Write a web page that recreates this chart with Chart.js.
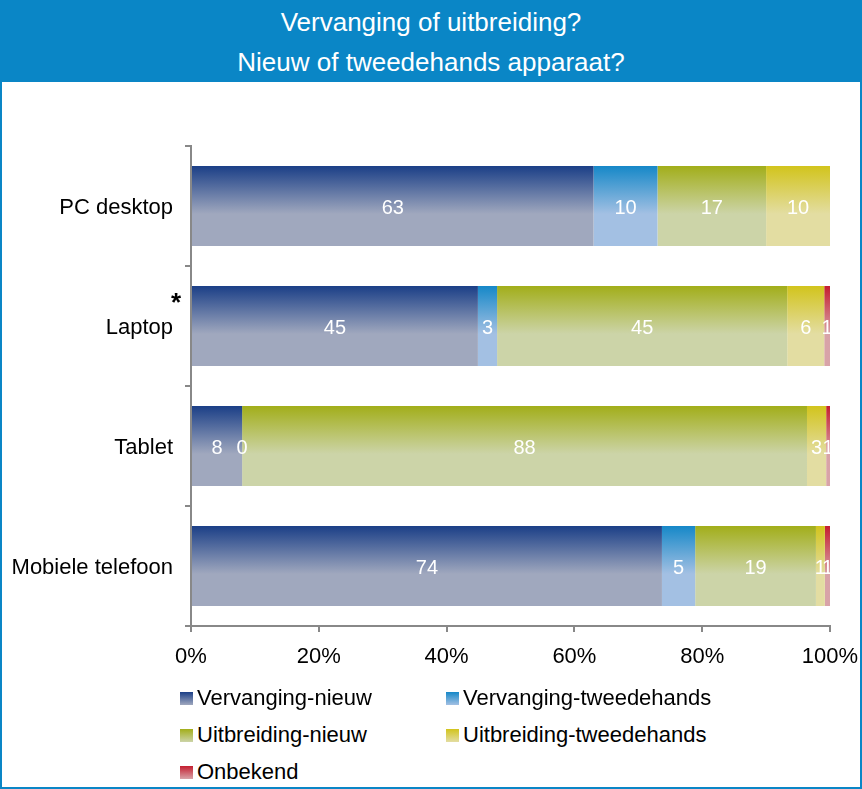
<!DOCTYPE html>
<html>
<head>
<meta charset="utf-8">
<script src="https://cdn.jsdelivr.net/npm/chart.js@4"></script>
<style>
  body { margin: 0; background: #fff; font-family: "Liberation Sans", Arial, sans-serif; }
  #pagina { position: relative; width: 862px; height: 789px; overflow: hidden; background: #fff; }
  #titel {
    position: absolute; left: 0; top: 0; width: 862px; height: 82px;
    background: #0a86c6; color: #fff; text-align: center;
    font-size: 26px; line-height: 40px; padding-top: 2px; box-sizing: border-box;
  }
  #rand { position: absolute; left: 0; top: 0; width: 862px; height: 789px; box-sizing: border-box; border: 2px solid #0a86c6; pointer-events: none; }
  #grafiek { position: absolute; left: 0; top: 80px; }
  #legenda { position: absolute; left: 180px; top: 679px; width: 640px; font-size: 22px; color: #000; }
  .item { position: absolute; height: 37px; line-height: 37px; white-space: nowrap; }
  .vak { display: inline-block; width: 13px; height: 13px; margin-right: 4px; vertical-align: 0px; }
</style>
</head>
<body>
<div id="pagina">
  <div id="titel">Vervanging of uitbreiding?<br>Nieuw of tweedehands apparaat?</div>
  <canvas id="grafiek" width="862" height="600"></canvas>
  <div id="legenda"></div>
  <div id="rand"></div>
</div>
<script>
// Categorieën en reeksen (percentages)
const categorieen = ['PC desktop', 'Laptop', 'Tablet', 'Mobiele telefoon'];
const reeksNamen = ['Vervanging-nieuw', 'Vervanging-tweedehands', 'Uitbreiding-nieuw', 'Uitbreiding-tweedehands', 'Onbekend'];
const vervangingNieuw = [63, 44.9, 8.0, 73.7];
const vervangingTweedehands = [10, 3.0, 0, 5.2];
const uitbreidingNieuw = [17, 45.4, 88.4, 18.9];
const uitbreidingTweedehands = [10, 5.8, 3.0, 1.4];
const onbekend = [null, 0.9, 0.6, 0.8];
const xTicks = [0, 20, 40, 60, 80, 100];

// Kleuren: donker boven, licht onder
const kleuren = [
  ['#1b3f87', '#a0a8be'],
  ['#1688c8', '#a3c0e3'],
  ['#a2ae1a', '#ccd4a8'],
  ['#d2c41c', '#e3dda2'],
  ['#c41e30', '#d8a3a8']
];

const waarden = [vervangingNieuw, vervangingTweedehands, uitbreidingNieuw, uitbreidingTweedehands, onbekend];
const lettertype = '"Liberation Sans", Arial, sans-serif';

function verloop(kleur) {
  return ctx => {
    const chart = ctx.chart;
    const y = chart.scales.y;
    if (!chart.chartArea || !y || ctx.dataIndex === undefined) return kleur[0];
    const midden = y.getPixelForValue(ctx.dataIndex);
    const half = 40;
    const g = chart.ctx.createLinearGradient(0, midden - half, 0, midden + half);
    g.addColorStop(0, kleur[0]);
    g.addColorStop(0.6, kleur[1]);
    g.addColorStop(1, kleur[1]);
    return g;
  };
}

const datasets = reeksNamen.map((naam, i) => ({
  label: naam,
  data: waarden[i],
  backgroundColor: verloop(kleuren[i]),
  borderWidth: 0,
  barPercentage: 0.667,
  categoryPercentage: 1
}));

// Waarden in de balken
const labelPlugin = {
  id: 'waardeLabels',
  afterDatasetsDraw(chart) {
    const ctx = chart.ctx;
    ctx.save();
    ctx.font = '20px ' + lettertype;
    ctx.fillStyle = '#fff';
    ctx.textAlign = 'center';
    ctx.textBaseline = 'middle';
    chart.data.datasets.forEach((ds, i) => {
      const meta = chart.getDatasetMeta(i);
      meta.data.forEach((bar, j) => {
        const v = ds.data[j];
        if (v === null || v === undefined) return;
        const p = bar.getCenterPoint();
        ctx.fillText(String(Math.round(v)), p.x, p.y + 2);
      });
    });
    // sterretje bij Laptop
    const y = chart.scales.y;
    ctx.fillStyle = '#000';
    ctx.font = 'bold 26px ' + lettertype;
    ctx.textAlign = 'left';
    ctx.fillText('*', y.right - 20, y.getPixelForValue(1) - 22);
    ctx.restore();
  }
};

new Chart(document.getElementById('grafiek'), {
  type: 'bar',
  data: { labels: categorieen, datasets },
  plugins: [labelPlugin],
  options: {
    indexAxis: 'y',
    responsive: false,
    animation: false,
    devicePixelRatio: 1,
    layout: { padding: { top: 66, right: 32, bottom: 10, left: 0 } },
    plugins: { legend: { display: false }, tooltip: { enabled: false } },
    scales: {
      x: {
        stacked: true,
        min: 0,
        max: 100,
        afterBuildTicks: s => { s.ticks = xTicks.map(v => ({ value: v })); },
        afterFit: s => { s.height = 44; s.paddingLeft = 0; s.paddingRight = 0; },
        ticks: { callback: v => v + '%', color: '#000', padding: 12, font: { size: 22, family: lettertype } },
        grid: { drawOnChartArea: false, tickLength: 6, color: '#888', lineWidth: 2 },
        border: { color: '#888', width: 2 }
      },
      y: {
        stacked: true,
        afterFit: s => { s.width = 191; s.paddingTop = 0; s.paddingBottom = 0; },
        ticks: { color: '#000', padding: 12, labelOffset: 2, font: { size: 22, family: lettertype } },
        grid: { offset: true, drawOnChartArea: false, tickLength: 6, color: '#888', lineWidth: 2 },
        border: { color: '#888', width: 2 }
      }
    }
  }
});

// Legenda in HTML
const legenda = document.getElementById('legenda');
const posities = [[0, 0], [266, 0], [0, 37], [266, 37], [0, 74]];
reeksNamen.forEach((naam, i) => {
  const el = document.createElement('div');
  el.className = 'item';
  el.style.left = posities[i][0] + 'px';
  el.style.top = posities[i][1] + 'px';
  el.innerHTML = `<span class="vak" style="background:linear-gradient(${kleuren[i][0]}, ${kleuren[i][1]})"></span>${naam}`;
  legenda.appendChild(el);
});
</script>
</body>
</html>
